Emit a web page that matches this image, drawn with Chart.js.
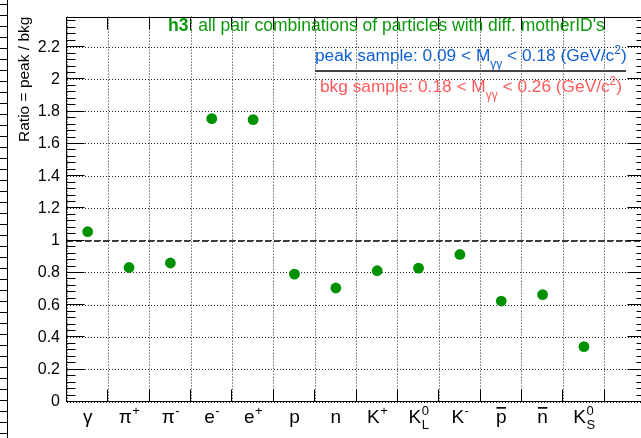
<!DOCTYPE html>
<html>
<head>
<meta charset="utf-8">
<script src="https://cdn.jsdelivr.net/npm/chart.js@4.4.1/dist/chart.umd.min.js"></script>
<style>
  html, body { margin: 0; padding: 0; overflow: hidden; background: #fff; width: 641px; height: 438px; }
  canvas { display: block; }
</style>
</head>
<body>
<canvas id="c" width="660" height="438"></canvas>
<script>
// Particle species (one bin each); the last bin is left empty.
const categories = ['γ', 'π+', 'π-', 'e-', 'e+', 'p', 'n', 'K+', 'K0L', 'K-', 'pbar', 'nbar', 'K0S', ''];
// Pieces used to typeset each axis label.
const labelBase = ['γ', 'π', 'π', 'e', 'e', 'p', 'n', 'K', 'K', 'K', 'p', 'n', 'K'];
const labelSup  = ['',  '+', '-', '-', '+', '',  '',  '+', '0', '-', '',  '',  '0'];
const labelSub  = ['',  '',  '',  '',  '',  '',  '',  '',  'L', '',  '',  '',  'S'];
const labelBar  = [false, false, false, false, false, false, false, false, false, false, true, true, false];

// Ratio of peak-window to background-window pair counts.
const ratio = [1.056, 0.834, 0.862, 1.757, 1.751, 0.793, 0.707, 0.814, 0.830, 0.915, 0.626, 0.666, 0.343];

// Y axis range and reference level.
const yMin = 0;
const yMax = 2.39;
const yStep = 0.2;
const yMinorStep = 0.04;
const refLevel = 1;

const FONT = '"Liberation Sans", Arial, Helvetica, sans-serif';

function drawRich(ctx, parts, x, y, color) {
  ctx.save();
  ctx.fillStyle = color;
  ctx.textAlign = 'left';
  ctx.textBaseline = 'alphabetic';
  let cx = x;
  for (const p of parts) {
    ctx.font = p.font;
    ctx.fillText(p.t, cx, y + (p.dy || 0));
    cx += ctx.measureText(p.t).width;
  }
  ctx.restore();
  return cx;
}

const framePlugin = {
  id: 'rootFrame',
  beforeDatasetsDraw(chart) {
    const { ctx, chartArea: a, scales: { y } } = chart;
    // dashed reference line at ratio = 1
    const yr = Math.round(y.getPixelForValue(refLevel));
    ctx.save();
    ctx.strokeStyle = '#3c3c3c';
    ctx.lineWidth = 2;
    ctx.setLineDash([6, 3]);
    ctx.beginPath();
    ctx.moveTo(a.left, yr);
    ctx.lineTo(a.right, yr);
    ctx.stroke();
    ctx.restore();
  },
  afterDatasetsDraw(chart) {
    const { ctx, chartArea: a, scales: { x, y } } = chart;
    ctx.save();
    ctx.strokeStyle = '#000';
    ctx.lineWidth = 1;
    const L = Math.round(a.left) - 0.5, R = Math.round(a.right) - 0.5;
    const T = Math.round(a.top) + 0.5, B = Math.round(a.bottom) - 0.5;
    ctx.strokeRect(L, T, R - L, B - T);

    // y ticks, pointing inward on both sides
    ctx.beginPath();
    const n = Math.round((yMax - yMin) / yMinorStep);
    for (let i = 0; i <= n; i++) {
      const v = yMin + i * yMinorStep;
      if (v > yMax) break;
      const py = Math.round(y.getPixelForValue(v)) - 0.5;
      const major = (i % Math.round(yStep / yMinorStep)) === 0;
      const len = major ? 18 : 9;
      ctx.moveTo(L, py); ctx.lineTo(L + len, py);
      ctx.moveTo(R, py); ctx.lineTo(R - len, py);
    }
    // x ticks at bin edges, top and bottom
    for (let i = 1; i < categories.length; i++) {
      const px = Math.round((x.getPixelForValue(i - 1) + x.getPixelForValue(i)) / 2) - 0.5;
      ctx.moveTo(px, B); ctx.lineTo(px, B - 12);
      ctx.moveTo(px, T); ctx.lineTo(px, T + 12);
    }
    ctx.stroke();

    // edge of the neighbouring pad on the far left
    ctx.beginPath();
    ctx.moveTo(7.5, 0); ctx.lineTo(7.5, 438);
    for (let py = 4.5; py < 438; py += 11) { ctx.moveTo(0, py); ctx.lineTo(7.5, py); }
    ctx.stroke();
    ctx.restore();

    // category labels
    ctx.save();
    ctx.fillStyle = '#000';
    ctx.textBaseline = 'alphabetic';
    ctx.textAlign = 'left';
    const base = y.getPixelForValue(0) + 21;
    const bigF = '19px ' + FONT, supF = '13px ' + FONT;
    for (let i = 0; i < labelBase.length; i++) {
      const cx = x.getPixelForValue(i);
      ctx.font = bigF;
      const wb = ctx.measureText(labelBase[i]).width;
      ctx.font = supF;
      const ws = Math.max(labelSup[i] ? ctx.measureText(labelSup[i]).width : 0,
                          labelSub[i] ? ctx.measureText(labelSub[i]).width : 0);
      const x0 = cx - (wb + ws) / 2;
      ctx.font = bigF;
      ctx.fillText(labelBase[i], x0, base);
      if (labelBar[i]) {
        ctx.fillRect(x0 + 0.5, base - 16, wb - 1, 1.7);
      }
      ctx.font = supF;
      if (labelSup[i]) ctx.fillText(labelSup[i], x0 + wb + 0.5, base - 8);
      if (labelSub[i]) ctx.fillText(labelSub[i], x0 + wb + 0.5, base + 6);
    }
    ctx.restore();

    // y axis title
    ctx.save();
    ctx.translate(28.5, a.top + 0);
    ctx.rotate(-Math.PI / 2);
    ctx.font = '15.5px ' + FONT;
    ctx.fillStyle = '#000';
    ctx.textAlign = 'right';
    ctx.textBaseline = 'alphabetic';
    ctx.fillText('Ratio = peak / bkg', 0, 0);
    ctx.restore();

    // headline and sample definitions
    const big = '17.3px ' + FONT, small = '12px ' + FONT;
    drawRich(ctx, [
      { t: 'h3', font: 'bold 17.5px ' + FONT },
      { t: ": all pair combinations of particles with diff. motherID's", font: '17.5px ' + FONT }
    ], 168, 31, '#0c990c');
    const x1 = 315;
    drawRich(ctx, [
      { t: 'peak sample: 0.09 < M', font: big },
      { t: 'γγ', font: small, dy: 7 },
      { t: ' < 0.18 (GeV/c', font: big },
      { t: '2', font: small, dy: -7 },
      { t: ')', font: big }
    ], x1, 61, '#1060d0');
    ctx.save();
    ctx.strokeStyle = '#444';
    ctx.lineWidth = 2;
    ctx.beginPath();
    ctx.moveTo(x1, 71); ctx.lineTo(626, 71);
    ctx.stroke();
    ctx.restore();
    drawRich(ctx, [
      { t: 'bkg sample: 0.18 < M', font: big },
      { t: 'γγ', font: small, dy: 7 },
      { t: ' < 0.26 (GeV/c', font: big },
      { t: '2', font: small, dy: -7 },
      { t: ')', font: big }
    ], 320, 92, '#ff5a5a');
  }
};

new Chart(document.getElementById('c'), {
  type: 'line',
  data: {
    labels: categories,
    datasets: [{
      data: ratio,
      showLine: false,
      pointRadius: 5.4,
      pointHoverRadius: 5.4,
      pointBackgroundColor: '#009100',
      pointBorderColor: '#009100',
      pointBorderWidth: 0
    }]
  },
  options: {
    responsive: false,
    animation: false,
    devicePixelRatio: 1,
    events: [],
    layout: { padding: { top: 7, right: 14, left: 0, bottom: 0 } },
    plugins: { legend: { display: false }, tooltip: { enabled: false } },
    scales: {
      x: {
        type: 'category',
        offset: true,
        grid: { offset: true, color: '#222', lineWidth: 1, drawTicks: false },
        border: { display: false, dash: [1, 2] },
        ticks: { display: false },
        afterFit(s) { s.height = 36; }
      },
      y: {
        min: yMin,
        max: yMax,
        grid: { color: '#222', lineWidth: 1, drawTicks: false },
        border: { display: false, dash: [1, 2] },
        ticks: {
          stepSize: yStep,
          includeBounds: false,
          padding: 7,
          color: '#000',
          font: { family: FONT, size: 16 },
          callback: v => String(+v.toFixed(1))
        },
        afterFit(s) { s.width = 67; }
      }
    }
  },
  plugins: [framePlugin]
});
</script>
</body>
</html>
